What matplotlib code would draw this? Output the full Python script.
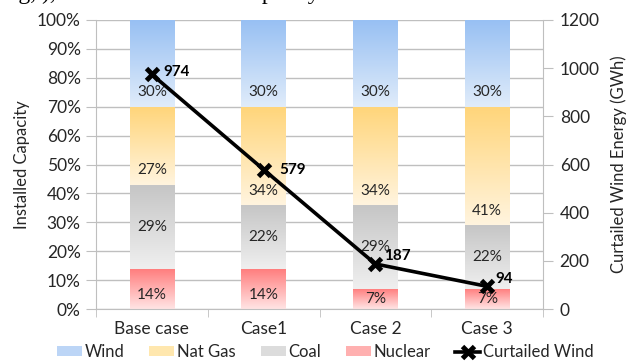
import matplotlib
matplotlib.use("Agg")
import matplotlib.pyplot as plt
import numpy as np
from matplotlib.colors import LinearSegmentedColormap
from matplotlib.patches import Rectangle
from matplotlib.lines import Line2D

plt.rcParams['font.family'] = ['Lato', 'DejaVu Sans']

cases = ['Base case', 'Case1', 'Case 2', 'Case 3']
nuclear = [14, 14, 7, 7]
coal = [29, 22, 29, 22]
nat_gas = [27, 34, 34, 41]
wind = [30, 30, 30, 30]
curtailed = [974, 579, 187, 94]

# stack order bottom -> top, with (top colour, bottom colour, legend swatch)
layers = [
    ('Nuclear', nuclear, '#FF7C7C', '#FFE4E4', '#FFB0B0'),
    ('Coal', coal, '#C6C6C6', '#EFEFEF', '#DCDCDC'),
    ('Nat Gas', nat_gas, '#FFD57A', '#FFF4DE', '#FFE7AE'),
    ('Wind', wind, '#98C0F3', '#E0ECFA', '#BCD5F6'),
]
label_offsets = [(8, 2), (11, 0), (6, 6), (6, 5)]

GRID = '#BFBFBF'
TXT = '#262626'

fig = plt.figure(figsize=(6.38, 3.62), dpi=100)
ax = fig.add_axes([96 / 638, 1 - 309 / 362, 447 / 638, 289 / 362])

x = np.arange(len(cases))
width = 0.4
bottom = np.zeros(len(cases))
for name, vals, top_c, bot_c, _ in layers:
    vals = np.array(vals, dtype=float)
    bars = ax.bar(x, vals, width, bottom=bottom, color='none',
                  edgecolor='none', zorder=2)
    cmap = LinearSegmentedColormap.from_list(name, [bot_c, top_c])
    grad = np.linspace(0, 1, 100).reshape(-1, 1)
    for rect in bars:
        x0, y0 = rect.get_x(), rect.get_y()
        im = ax.imshow(grad, cmap=cmap, origin='lower', aspect='auto',
                       extent=[x0, x0 + rect.get_width(), y0, y0 + rect.get_height()],
                       zorder=2, interpolation='bilinear')
        im.set_clip_path(rect)
    for xi, b, v in zip(x, bottom, vals):
        if name == 'Coal':
            ly = b + v / 2
        else:
            ly = b + min(5, v / 2)
        ax.text(xi, ly, f'{int(v)}%', ha='center', va='center',
                fontsize=11, color=TXT, zorder=4)
    bottom += vals

ax.set_xlim(-0.5, 3.5)
ax.set_ylim(0, 100)
ax.set_yticks(range(0, 101, 10))
ax.set_yticklabels([f'{v}%' for v in range(0, 101, 10)], fontsize=12.5,
                   color=TXT)
ax.set_xticks(x)
ax.set_xticklabels(cases, fontsize=12.5, color=TXT)
ax.set_xticks(np.arange(-0.5, 4, 1), minor=True)
ax.tick_params(axis='x', which='major', length=0, pad=9)
ax.tick_params(axis='x', which='minor', length=6, color=GRID)
ax.tick_params(axis='y', length=7, color=GRID, pad=4)
ax.yaxis.grid(True, color=GRID, lw=1, zorder=0)
ax.set_axisbelow(True)
ax.set_ylabel('Installed Capacity', fontsize=12, labelpad=5, color=TXT)
for side in ['left', 'bottom']:
    ax.spines[side].set_color(GRID)
for side in ['top', 'right']:
    ax.spines[side].set_visible(False)

ax2 = ax.twinx()
ax2.plot(x, curtailed, color='black', lw=2.6, marker='x', ms=9, mew=3.5,
         zorder=5)
for xi, v, off in zip(x, curtailed, label_offsets):
    ax2.annotate(str(v), (xi, v), xytext=off, textcoords='offset points',
                 ha='left', va='center', fontsize=11, fontweight='bold',
                 color='black')
ax2.set_ylim(0, 1200)
ax2.set_yticks(range(0, 1201, 200))
ax2.tick_params(axis='y', length=7, color=GRID, labelsize=12.5,
                labelcolor=TXT, pad=5)
ax2.set_ylabel('Curtailed Wind Energy (GWh)', fontsize=12, labelpad=8,
               color=TXT)
ax2.spines['right'].set_color(GRID)
for side in ['top', 'left', 'bottom']:
    ax2.spines[side].set_visible(False)

handles = [Rectangle((0, 0), 1, 1, facecolor=layer[4], edgecolor='none')
           for layer in reversed(layers)]
handles.append(Line2D([], [], color='black', lw=2.6, marker='x', ms=8, mew=3.5))
labels = [layer[0] for layer in reversed(layers)] + ['Curtailed Wind']
fig.legend(handles, labels, loc='center', bbox_to_anchor=(0.51, 1 - 352 / 362),
           ncol=5, frameon=False, fontsize=12, handlelength=1.5,
           handleheight=0.55, handletextpad=0.15, columnspacing=1.5,
           labelcolor=TXT)

# caption line of the surrounding page, mostly clipped at the top edge
fig.text(0.0, 1 + 1 / 362,
         'ing, ), and installed wind capacity is the same for each case.',
         family='Liberation Serif', fontsize=17, ha='left', va='baseline')

fig.savefig('out.png', dpi=100)
